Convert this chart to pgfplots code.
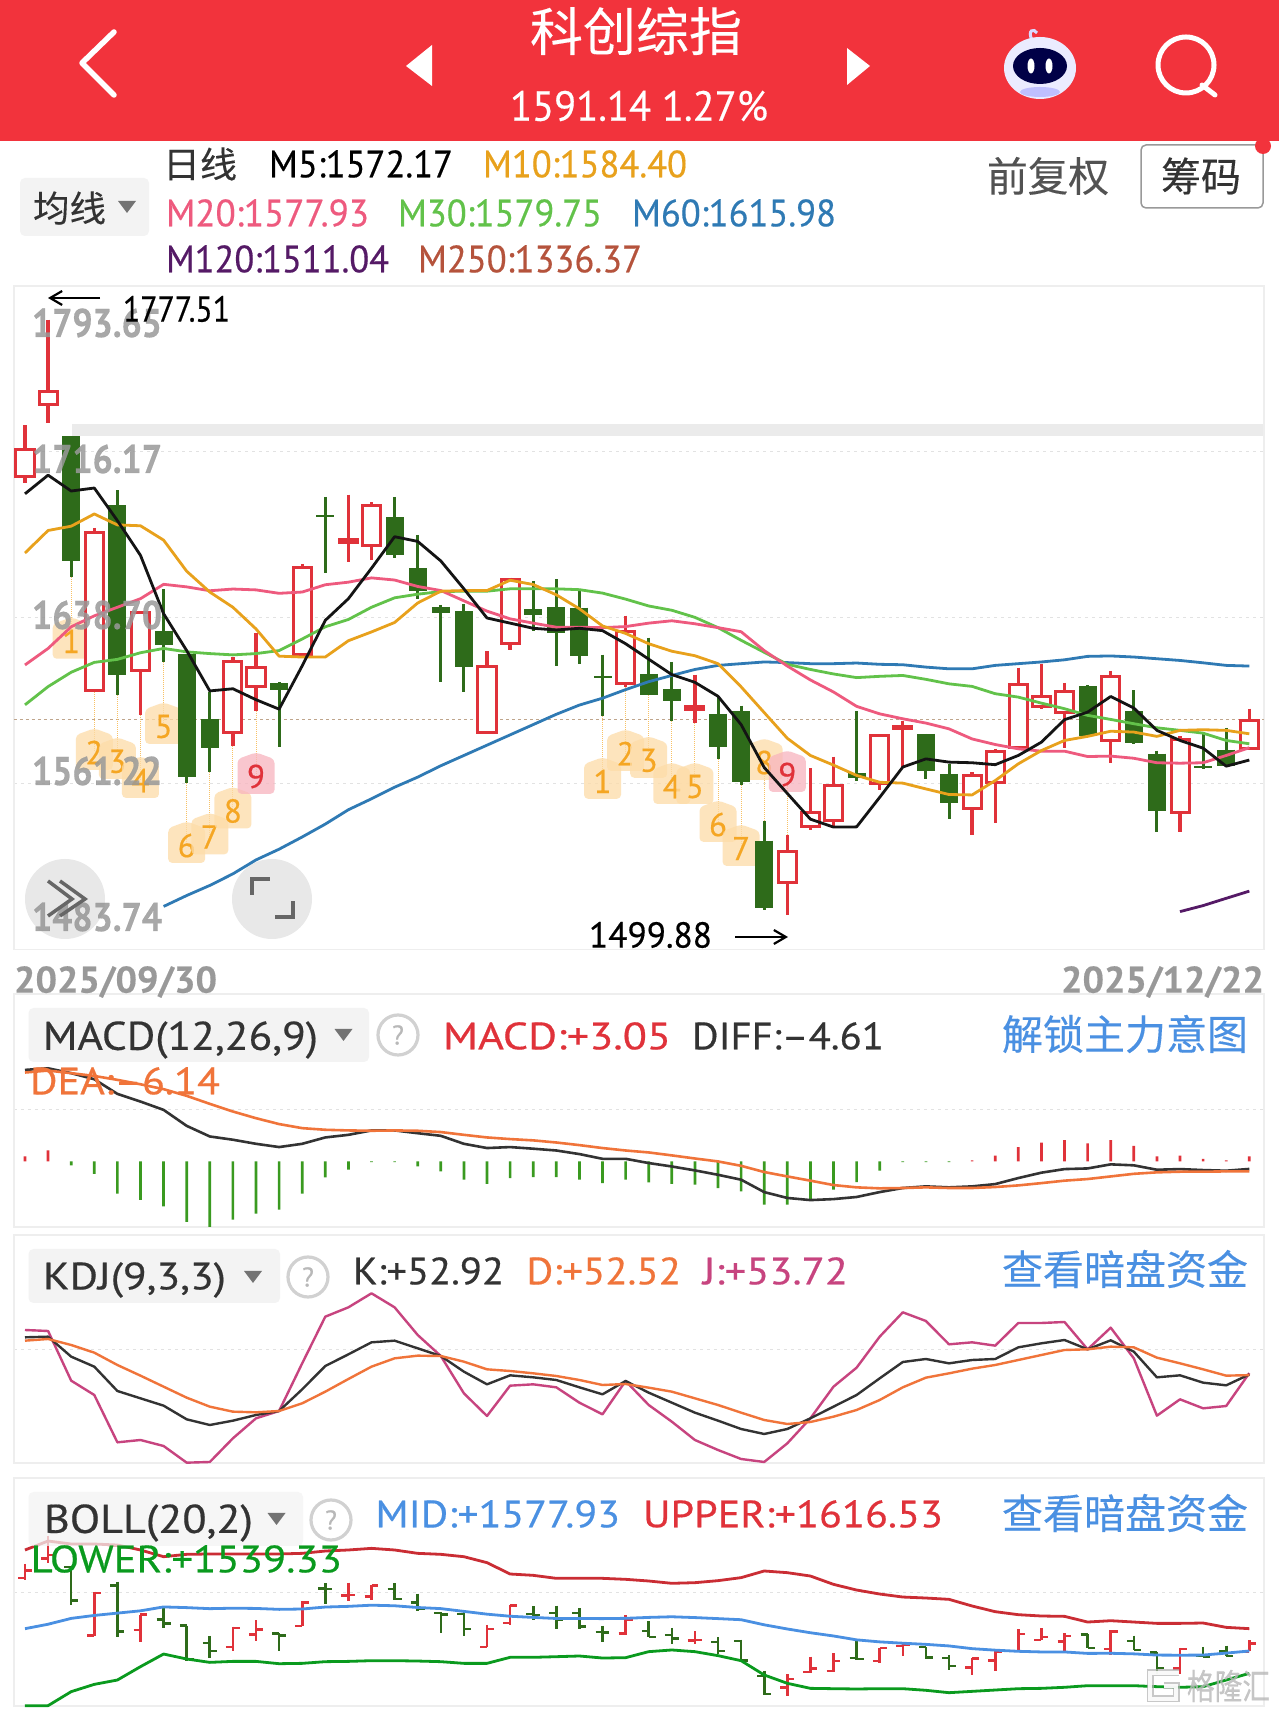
\documentclass[border=0pt]{standalone}
\usepackage{fontspec}
\usepackage{pgfplots}
\usepackage{pgfplotstable}
\usepackage{graphicx}
\pgfplotsset{compat=1.18}
\usetikzlibrary{arrows.meta,shapes.symbols}
\setmainfont{PT Sans}[FakeBold=0.45]
\newfontfamily\cjk{Noto Sans CJK SC}[FakeBold=0.25]
\definecolor{hdr}{HTML}{F2333C}
\definecolor{cred}{HTML}{E0323A}
\definecolor{cgreen}{HTML}{2E6B1A}
\definecolor{bargreen}{HTML}{3A9A20}
\definecolor{ma5}{HTML}{141414}
\definecolor{ma10}{HTML}{E8A11C}
\definecolor{ma20}{HTML}{EE5A7E}
\definecolor{ma30}{HTML}{62C24A}
\definecolor{ma60}{HTML}{2F7AB4}
\definecolor{ma120}{HTML}{551A66}
\definecolor{ma250}{HTML}{B5533C}
\definecolor{dark}{HTML}{333333}
\definecolor{orangeL}{HTML}{F0743A}
\definecolor{pinkL}{HTML}{C7447F}
\definecolor{blueL}{HTML}{4A90E2}
\definecolor{greenL}{HTML}{0A9A1E}
\definecolor{framec}{HTML}{EEEEEE}
\definecolor{gridc}{HTML}{E2E2E2}
\definecolor{lab}{HTML}{999999}
\definecolor{sel}{HTML}{F3F3F3}
\definecolor{badgeO}{HTML}{FDDCA8}
\definecolor{badgeR}{HTML}{F8B4BE}
\definecolor{numO}{HTML}{F5A623}
\definecolor{dashc}{HTML}{BFA58C}

\pgfplotstableread{
i m5 m10 m20 m30 m60
0 1696.3 1668.7 1616.5 1597.9 nan
1 1705 1679.2 1624.2 1606.4 nan
2 1697.6 1681.2 1634.3 1613.1 nan
3 1699 1686.9 1639.4 1617.7 nan
4 1683.8 1681.8 1643.4 1619.1 nan
5 1667.6 1681.4 1647.4 1622.2 nan
6 1640.4 1674.7 1654.1 1624.2 1503.9
7 1623.2 1660.2 1652.9 1622.6 1509
8 1604.4 1650.5 1651.1 1621.8 1513.7
9 1605.4 1643.4 1651.9 1621.2 1519.1
10 1600.3 1633.3 1651.5 1621.8 1525.6
11 1595.9 1620.6 1649.9 1623.2 1530.6
12 1616.1 1620.2 1650.5 1628.6 1536.3
13 1637.3 1620.2 1653.9 1634.3 1542.3
14 1647.4 1627.8 1655.1 1637.7 1549
15 1661.6 1631.9 1657.1 1643.4 1554.1
16 1676.3 1636.3 1656.1 1647.8 1559.5
17 1674.1 1645.4 1653.1 1649.5 1564.2
18 1665 1650.9 1651.2 1650.7 1569.5
19 1652 1651.2 1646.4 1650.9 1574.3
20 1638.4 1651.2 1641.6 1650.9 1579.1
21 1636 1656 1638 1652 1583.9
22 1633.6 1654 1636 1652 1588.7
23 1632.8 1649.2 1634.1 1652 1593.5
24 1633.6 1642.7 1634.1 1651.6 1597.8
25 1632.5 1634.7 1633.9 1650 1601
26 1626.4 1631.2 1634.4 1647.2 1605
27 1619.2 1626.4 1636 1644 1608.7
28 1612 1622.9 1637.1 1642 1611.6
29 1608.4 1620.8 1635.7 1638.7 1614.4
30 1601.9 1617.1 1633.9 1633.9 1616.3
31 1588.7 1606.3 1632 1628 1617.1
32 1568.7 1594.3 1623.2 1622.4 1617.9
33 1556.6 1582.3 1616 1616.8 1617.6
34 1544.6 1574.3 1609.5 1614.4 1617.1
35 1540.9 1569.8 1603.9 1612.3 1617.1
36 1541 1565 1597.2 1610.6 1617.4
37 1554.8 1561.8 1593.7 1611.2 1616.8
38 1568.9 1561.4 1591.4 1611.6 1616.6
39 1572.7 1558.7 1589.4 1609.8 1615.5
40 1571.2 1556.1 1586.7 1607.7 1614.7
41 1570.9 1555.9 1582 1606.5 1614.7
42 1570 1562.6 1579.4 1603.1 1616.3
43 1574.3 1570.4 1577.4 1601.5 1617.1
44 1580.5 1576.6 1576.3 1598.7 1617.9
45 1591 1581.3 1576.3 1596.1 1618.9
46 1594.5 1583.2 1573.8 1593 1620.5
47 1601.8 1585.6 1574 1591.1 1620.7
48 1596.4 1585.2 1573 1589.1 1620.2
49 1586 1583.2 1570.9 1587.2 1619.4
50 1581.3 1586 1570.7 1586 1618.6
51 1577.7 1586.3 1570.9 1584.7 1617.5
52 1569.3 1586 1574.3 1581.3 1616.3
53 1572.17 1584.4 1577.93 1579.75 1615.98
}\matable

\pgfplotstableread{
i diff dea macd
0 56.1 54.5 3.06
1 57.1 55.7 6.7
2 54.1 54.1 -2.4
3 50.4 52.4 -7.6
4 41.4 50 -19.8
5 36.7 47.3 -23.5
6 31.6 44.3 -27.6
7 21.8 40.2 -37.1
8 15.3 35.3 -40.2
9 13.3 30.6 -35.7
10 10.8 26.5 -32
11 8.8 22.9 -29.6
12 10.8 20.4 -19.8
13 14.7 19.4 -9.8
14 16.3 19 -5.1
15 19 18.8 -0.5
16 19 19 -0.5
17 17.3 18.8 -3
18 15.7 18 -6.1
19 10.8 16.3 -11.2
20 8.2 14.7 -13.7
21 8.8 13.7 -10.2
22 7.8 12.9 -9.6
23 6.7 11.6 -9.6
24 4.5 10 -11.2
25 1.6 8.2 -13.3
26 1.6 6.7 -11.2
27 -1 5.5 -12.9
28 -3.1 3.7 -13.7
29 -5.5 1.8 -14.3
30 -8.2 0 -16.3
31 -11.2 -2.7 -18.4
32 -18.8 -6.5 -26.5
33 -22.4 -9.2 -26.5
34 -23.7 -11.8 -23.5
35 -23.1 -14.5 -17.3
36 -21.8 -15.9 -12.7
37 -18.8 -16.5 -5.7
38 -16.3 -16.3 -0.4
39 -15.3 -15.9 -0.4
40 -15.9 -16.3 -0.4
41 -15.3 -16.3 0.6
42 -13.9 -15.7 3.5
43 -10.2 -14.7 8.8
44 -6.9 -13.3 11.6
45 -4.7 -11.8 13.1
46 -4.3 -10.8 11
47 -1.8 -9.2 13.1
48 -2.4 -7.6 9.6
49 -5.1 -6.7 3.1
50 -4.7 -6.3 3.5
51 -5.3 -6.3 1.6
52 -5.7 -6.1 0.6
53 -4.61 -6.14 3.05
}\macdtable

\pgfplotstableread{
i k d j
0 75.2 73.2 79.6
1 75.6 74.2 79
2 63.6 70.6 49.2
3 57.6 66 40.6
4 43 58.6 12.2
5 38.6 52.2 13.6
6 34.2 45.6 10
7 26 39 0
8 22.6 33.6 0.4
9 25.2 30.6 14.6
10 28.6 30.2 26.6
11 31 31 31
12 44 35.6 59.6
13 58 42.6 87.6
14 65 50.2 93.2
15 72.2 57.6 101.6
16 73.2 62.6 93.2
17 68.6 64.2 76.6
18 64 64 64
19 54.6 60.6 41.6
20 47 56 28
21 52.4 55 46.2
22 51.2 53.6 47
23 49.6 52 45.2
24 45.2 49.6 36
25 41 46.6 29
26 49 47.2 49
27 42 45 34.6
28 36 42.6 24.6
29 30 38.6 13.6
30 25.2 34.6 7.6
31 20.2 30 2.2
32 17.2 25.6 0.4
33 20.2 23.2 11.6
34 26.6 24.4 26.6
35 33.6 27.6 45.6
36 40.6 31.6 57
37 50.6 37.6 75.6
38 60.4 45.2 90.2
39 62.2 51 85
40 59.6 53.6 71
41 61.6 56.4 72.2
42 62.2 58.6 70.2
43 69.2 61.6 83.8
44 71.6 64.6 83.8
45 73.6 67.6 84.4
46 68 68 68
47 73.4 69.6 81
48 66.6 69.2 62.6
49 51.2 63 28.2
50 52.4 59.6 38
51 48 56 32.6
52 46.4 52.2 34
53 52.92 52.52 53.72
}\kdjtable

\pgfplotstableread{
i up lo
0 1752.5 1483.5
1 1768 1483.5
2 1762.8 1507.7
3 1762.8 1520.3
4 1761.1 1527.8
5 1752.5 1550.9
6 1740.9 1572.7
7 1745 1564.1
8 1745.6 1558.3
9 1745.6 1560
10 1745.6 1560
11 1745.6 1556
12 1746.7 1556.6
13 1750.7 1559.5
14 1752.5 1560
15 1755.3 1561.2
16 1752.5 1561.2
17 1746.7 1560.6
18 1745 1559.5
19 1740.9 1556.6
20 1730.6 1556.6
21 1711 1567
22 1708.7 1567
23 1703.5 1568.1
24 1703.5 1569.3
25 1703.5 1565.8
26 1701.8 1566.4
27 1698.9 1576.8
28 1694.9 1579.7
29 1696 1576.8
30 1699.5 1569.9
31 1704.7 1561.2
32 1716.2 1536.5
33 1713.3 1522.1
34 1707.5 1513.4
35 1693.1 1512.8
36 1683.3 1512.3
37 1676.4 1512.8
38 1671.2 1512.8
39 1669.5 1510
40 1667.2 1505.9
41 1655.7 1508.2
42 1645.9 1510.5
43 1640.7 1512.8
44 1638.4 1513.4
45 1637.8 1515.2
46 1628 1518
47 1630.3 1518
48 1628 1518
49 1625.7 1516.3
50 1625.7 1515.2
51 1626.3 1516.3
52 1618.8 1527.8
53 1616.53 1539.33
}\bolltable

% index, body top, body bottom, high, low
\newcommand\candles{%
\U{0}{1716.8}{1704.6}{1728.3}{1701.4}
\U{1}{1743.8}{1737.8}{1777.51}{1729.3}
\D{2}{1723.2}{1665.2}{1723.2}{1657.5}
\U{3}{1678.4}{1604.6}{1680.4}{1604.6}
\D{4}{1690.9}{1611.7}{1698}{1602.4}
\U{5}{1640.8}{1614.1}{1641}{1593.3}
\D{6}{1632.3}{1625.6}{1651.9}{1618.1}
\D{7}{1621.8}{1564.2}{1621.8}{1561.5}
\D{8}{1591.4}{1577.7}{1604}{1566.6}
\U{9}{1618.1}{1584.8}{1620.1}{1578.7}
\U{10}{1615.1}{1606.6}{1631.3}{1594.9}
\D{11}{1608}{1605}{1608.4}{1578.1}
\U{12}{1662}{1621.6}{1663.6}{1621.6}
\D{13}{1686.2}{1685.4}{1694.9}{1659.2}
\U{14}{1675.2}{1673.6}{1695.9}{1664.6}
\U{15}{1690.9}{1672.3}{1692.3}{1665.6}
\D{16}{1685.4}{1667.6}{1694.9}{1666.6}
\D{17}{1661.6}{1651.1}{1677.1}{1647.4}
\D{18}{1643.6}{1640.8}{1644.5}{1608.7}
\D{19}{1641.5}{1615.5}{1644.8}{1603.9}
\U{20}{1616}{1585}{1622.9}{1585}
\U{21}{1656.4}{1626.4}{1657.2}{1623.5}
\D{22}{1642.4}{1640}{1655.7}{1632.3}
\D{23}{1643.5}{1631.2}{1656.5}{1615.8}
\D{24}{1643.2}{1620.5}{1652}{1616.8}
\D{25}{1611.2}{1610.2}{1621.3}{1592.7}
\U{26}{1632}{1607.9}{1639.5}{1606.3}
\D{27}{1612.4}{1602.3}{1629.3}{1602.3}
\D{28}{1605.5}{1599.6}{1617.9}{1590.3}
\U{29}{1596.9}{1595.9}{1612}{1589.5}
\D{30}{1593.8}{1578.3}{1601.5}{1572.7}
\D{31}{1594.8}{1561.7}{1597.5}{1560.6}
\D{32}{1534.6}{1503.4}{1543.8}{1502.1}
\U{33}{1529.3}{1515.2}{1537.4}{1499.88}
\U{34}{1547.5}{1541.4}{1568.3}{1539.4}
\U{35}{1560.3}{1543.8}{1573.8}{1541.4}
\D{36}{1566.2}{1563.9}{1595}{1562.2}
\U{37}{1583.6}{1561}{1583.6}{1558}
\U{38}{1588}{1587}{1590.6}{1568.9}
\D{39}{1584.4}{1567}{1584.4}{1563.4}
\D{40}{1565.7}{1552.2}{1570.4}{1544.7}
\U{41}{1565}{1549.4}{1566.5}{1537}
\U{42}{1576.2}{1561.5}{1577.4}{1542.7}
\U{43}{1607.3}{1578.2}{1615.2}{1578.2}
\U{44}{1602}{1597.3}{1617}{1596.1}
\U{45}{1603.9}{1594.2}{1608.2}{1577.9}
\D{46}{1606.5}{1583.6}{1607}{1583.6}
\U{47}{1611.3}{1581.3}{1613.7}{1570.7}
\D{48}{1594.8}{1580}{1604.6}{1579.7}
\D{49}{1575.1}{1548.2}{1576.6}{1538.5}
\U{50}{1581.6}{1547.9}{1583.2}{1538.5}
\D{51}{1569.2}{1568.3}{1585.2}{1568.1}
\D{52}{1577}{1569.6}{1587.2}{1569}
\U{53}{1590.6}{1577.4}{1596.1}{1577.4}
}

\newcommand\TT[6]{%
  \pgfmathsetmacro\tw{#2-#1}\pgfmathsetmacro\tc{(#1+#2)/2}%
  \node[text=#4,inner sep=0pt,anchor=center] at (\tc,#3+1)
    {\resizebox{\tw pt}{\height}{\fontsize{#5}{#5}\selectfont #6}};}
\newcommand\Q[2]{%
  \draw[draw=black!18,line width=3.2pt,fill=white] (#1,#2) circle (20);
  \node[text=black!28,inner sep=0pt] at (#1,#2) {\fontsize{27}{27}\selectfont ?};}
\newcommand\Tri[2]{\fill[black!55] (#1-9,#2-6) -- (#1+9,#2-6) -- (#1,#2+6) -- cycle;}
\newcommand\B[3]{%
  \addplot[densely dotted,line width=1pt,color=numO!70] coordinates {(#1,#2)(#1,#3)};
}
\newcommand\BN[5]{%
  \node[signal,signal to=north,signal pointer angle=140,minimum width=37pt,minimum height=38pt,
        inner sep=0pt,rounded corners=4pt,fill=#4,fill opacity=0.75,text opacity=1,text=#5,
        font=\fontsize{33}{33}\selectfont] at (axis cs:#1,#2) {#3};}

\pgfplotsset{panel/.style={scale only axis,width=1250pt,anchor=south west,
  xmin=-0.476,xmax=53.636,xtick=\empty,
  major tick length=0pt,yticklabels={},ymajorgrids,
  grid style={dash pattern=on 3pt off 4pt,draw=gridc,line width=0.9pt},
  axis line style={draw=framec,line width=1.6pt},clip=false,unbounded coords=jump,
  every axis plot/.append style={line join=round}}}

\begin{document}
\begin{tikzpicture}
\useasboundingbox (0pt,0pt) rectangle (1279pt,1714pt);
\fill[white] (0pt,0pt) rectangle (1279pt,1714pt);
\begin{scope}[x=1pt,y=-1pt,shift={(0pt,1714pt)}]
\fill[hdr] (0,0) rectangle (1279,141);
\draw[white,line width=5.5pt,line cap=round,line join=round] (114,32) -- (82,63) -- (114,95);
\fill[white] (432,45) -- (406,66) -- (432,86) -- cycle;
\fill[white] (847,48) -- (870,66) -- (847,85) -- cycle;
\TT{530}{742}{30}{white}{52}{\cjk 科创综指}
\TT{510}{768}{105}{white}{42}{1591.14 1.27\%}
% robot
\draw[white!85!blue,line width=3pt] (1032,40) .. controls (1027,30) and (1034,28) .. (1037,33);
\fill[white!92!blue] (1040,68) ellipse (36 and 31);
\fill[white!75!blue] (1040,92) ellipse (20 and 5);
\fill[black!72!blue] (1040,66) ellipse (27 and 18);
\fill[white] (1031,66) ellipse (3.5 and 7.5);
\fill[white] (1049,66) ellipse (3.5 and 7.5);
% search
\draw[white,line width=5pt] (1186,65) circle (28);
\draw[white,line width=5pt,line cap=round] (1202,85) -- (1215,95);
% legend rows
\fill[sel,rounded corners=5pt] (20,178) rectangle (149,236);
\TT{33}{106}{207}{dark}{36}{\cjk 均线}
\fill[black!55] (118,201) -- (136,201) -- (127,213) -- cycle;
\TT{163}{237}{163}{dark}{36}{\cjk 日线}
\TT{269}{453}{163}{black}{38}{M5:1572.17}
\TT{483}{687}{163}{ma10}{38}{M10:1584.40}
\TT{166}{369}{212}{ma20}{38}{M20:1577.93}
\TT{398}{602}{212}{ma30}{38}{M30:1579.75}
\TT{632}{836}{212}{ma60}{38}{M60:1615.98}
\TT{166}{389}{258}{ma120}{38}{M120:1511.04}
\TT{418}{642}{258}{ma250}{38}{M250:1336.37}
\TT{987}{1109}{175}{dark!85}{41}{\cjk 前复权}
\draw[black!40,line width=1.5pt,rounded corners=5pt] (1141,145) rectangle (1263,208);
\TT{1161}{1241}{175}{dark}{40}{\cjk 筹码}
\fill[hdr] (1263,146) circle (8);
% band
\fill[black!8] (72,424) rectangle (1264,436);
\end{scope}

% ---- main candle axis
\begin{axis}[panel,at={(14pt,764.3pt)},height=663.7pt,ymin=1483.74,ymax=1793.2,
  ytick={1716.17,1638.7,1561.22}]
\addplot[color=dashc,dashed,line width=1.1pt] coordinates {(-0.476,1591.14)(53.636,1591.14)};
% badges: connector from candle low to the badge
\B{2}{1657.5}{1627.5}\B{3}{1604.6}{1575.7}\B{4}{1602.4}{1571.5}\B{5}{1593.3}{1562.6}\B{6}{1618.1}{1587.8}
\B{7}{1561.5}{1532.3}\B{8}{1566.6}{1536.3}\B{9}{1578.7}{1548.4}\B{10}{1594.9}{1564.5}
\B{25}{1592.7}{1562.2}\B{26}{1606.3}{1575.2}\B{27}{1602.3}{1572}\B{28}{1590.3}{1559.8}\B{29}{1589.5}{1559.8}
\B{30}{1572.7}{1542.1}\B{31}{1560.6}{1530.9}\B{32}{1543.8}{1571}\B{33}{1537.4}{1565.4}
\BN{2}{1627.5}{1}{badgeO}{numO}\BN{3}{1575.7}{2}{badgeO}{numO}\BN{4}{1571.5}{3}{badgeO}{numO}\BN{5}{1562.6}{4}{badgeO}{numO}
\BN{6}{1587.8}{5}{badgeO}{numO}\BN{7}{1532.3}{6}{badgeO}{numO}\BN{8}{1536.3}{7}{badgeO}{numO}\BN{9}{1548.4}{8}{badgeO}{numO}
\BN{10}{1564.5}{9}{badgeR}{cred}
\BN{25}{1562.2}{1}{badgeO}{numO}\BN{26}{1575.2}{2}{badgeO}{numO}\BN{27}{1572}{3}{badgeO}{numO}\BN{28}{1559.8}{4}{badgeO}{numO}
\BN{29}{1559.8}{5}{badgeO}{numO}\BN{30}{1542.1}{6}{badgeO}{numO}\BN{31}{1530.9}{7}{badgeO}{numO}\BN{32}{1571}{8}{badgeO}{numO}
\BN{33}{1565.4}{9}{badgeR}{cred}
\def\U#1#2#3#4#5{%
  \pgfmathsetmacro\xa{#1-0.39}\pgfmathsetmacro\xb{#1+0.39}%
  \addplot[cred,line width=3.3pt] coordinates {(#1,#4)(#1,#2)};
  \addplot[cred,line width=3.3pt] coordinates {(#1,#3)(#1,#5)};
  \addplot[cred,line width=3pt,fill=white,line join=miter] coordinates {(\xa,#2)(\xb,#2)(\xb,#3)(\xa,#3)} --cycle;
}
\def\D#1#2#3#4#5{%
  \addplot[cgreen,line width=3pt] coordinates {(#1,#4)(#1,#5)};
  \addplot[cgreen,line width=18pt] coordinates {(#1,#2)(#1,#3)};
}
\candles
\addplot[ma60,line width=2.8pt] table[x=i,y=m60] {\matable};
\addplot[ma120,line width=2.8pt] coordinates {(50,1501.5)(51,1504.3)(52,1507.7)(53,1511.04)};
\addplot[ma30,line width=2.8pt] table[x=i,y=m30] {\matable};
\addplot[ma20,line width=2.8pt] table[x=i,y=m20] {\matable};
\addplot[ma10,line width=2.8pt] table[x=i,y=m10] {\matable};
\addplot[ma5,line width=2.8pt] table[x=i,y=m5] {\matable};
\end{axis}

% ---- MACD
\begin{axis}[panel,at={(14pt,487pt)},height=233pt,ymin=-40.2,ymax=102.65,ytick={31.6}]
\addplot[ybar,bar width=2.7pt,bar shift=0pt,fill=bargreen,draw=none,restrict y to domain=-100:0] table[x=i,y=macd] {\macdtable};
\addplot[ybar,bar width=2.7pt,bar shift=0pt,fill=cred,draw=none,restrict y to domain=0:100] table[x=i,y=macd] {\macdtable};
\addplot[dark,line width=2.6pt] table[x=i,y=diff] {\macdtable};
\addplot[orangeL,line width=2.6pt] table[x=i,y=dea] {\macdtable};
\end{axis}

% ---- KDJ
\begin{axis}[panel,at={(14pt,251pt)},height=228pt,ymin=-0.2,ymax=136.6,ytick={68.2}]
\addplot[pinkL,line width=2.4pt] table[x=i,y=j] {\kdjtable};
\addplot[dark,line width=2.4pt] table[x=i,y=k] {\kdjtable};
\addplot[orangeL,line width=2.4pt] table[x=i,y=d] {\kdjtable};
\end{axis}

% ---- BOLL
\begin{axis}[panel,at={(14pt,8pt)},height=228pt,ymin=1482.9,ymax=1876.9,ytick={1679.3}]
\def\U#1#2#3#4#5{%
  \pgfmathsetmacro\xa{#1-0.3}\pgfmathsetmacro\xb{#1+0.3}%
  \addplot[cred,line width=2.6pt] coordinates {(#1,#4)(#1,#5)};
  \addplot[cred,line width=2.4pt] coordinates {(\xa,#3)(#1,#3)};
  \addplot[cred,line width=2.4pt] coordinates {(#1,#2)(\xb,#2)};
}
\def\D#1#2#3#4#5{%
  \pgfmathsetmacro\xa{#1-0.3}\pgfmathsetmacro\xb{#1+0.3}%
  \addplot[cgreen,line width=2.6pt] coordinates {(#1,#4)(#1,#5)};
  \addplot[cgreen,line width=2.4pt] coordinates {(\xa,#2)(#1,#2)};
  \addplot[cgreen,line width=2.4pt] coordinates {(#1,#3)(\xb,#3)};
}
\candles
\addplot[cred!90!black,line width=2.8pt] table[x=i,y=up] {\bolltable};
\addplot[blueL,line width=2.8pt] table[x=i,y=m20] {\matable};
\addplot[greenL,line width=2.8pt] table[x=i,y=lo] {\bolltable};
\end{axis}

\begin{scope}[x=1pt,y=-1pt,shift={(0pt,1714pt)}]
% overlays of the main chart
\begin{scope}[opacity=0.85]
\TT{32}{162}{322}{lab}{40}{\textbf{1793.65}}
\TT{32}{162}{458}{lab}{40}{\textbf{1716.17}}
\TT{32}{162}{614}{lab}{40}{\textbf{1638.70}}
\TT{32}{162}{770}{lab}{40}{\textbf{1561.22}}
\TT{32}{162}{916}{lab}{40}{\textbf{1483.74}}
\end{scope}
\TT{123}{230}{308}{black}{36}{1777.51}
\draw[black,line width=2.2pt,-{Straight Barb[length=12pt,width=14pt]}] (100,298) -- (48,298);
\TT{589}{712}{934}{black}{36}{1499.88}
\draw[black,line width=2.2pt,-{Straight Barb[length=12pt,width=14pt]}] (735,937) -- (788,937);
\fill[black!45,opacity=0.2] (65,899) circle (40);
\draw[black!60,line width=3.5pt] (48,881) -- (72,899) -- (48,916);
\draw[black!60,line width=3.5pt] (60,881) -- (85,899) -- (60,916);
\fill[black!45,opacity=0.2] (272,899) circle (40);
\draw[black!60,line width=4pt] (252,895) -- (252,879) -- (270,879);
\draw[black!60,line width=4pt] (275,917.5) -- (293,917.5) -- (293,901.5);
\TT{14}{217}{981}{lab}{37}{\textbf{2025/09/30}}
\TT{1061}{1264}{981}{lab}{37}{\textbf{2025/12/22}}
% MACD header
\fill[sel,rounded corners=5pt] (28.5,1008) rectangle (369,1062);
\TT{43}{318}{1039}{dark}{40}{MACD(12,26,9)}
\Tri{343.5}{1035}
\Q{398}{1035}
\TT{443}{671}{1035}{cred}{38}{MACD:+3.05}
\TT{692}{884}{1035}{dark}{38}{DIFF:--4.61}
\TT{1002}{1248}{1033}{blueL}{41}{\cjk 解锁主力意图}
\TT{30}{220}{1080}{orangeL}{38}{DEA:--6.14}
% KDJ header
\fill[sel,rounded corners=5pt] (28.5,1249) rectangle (280,1303);
\TT{43}{226}{1279}{dark}{38}{KDJ(9,3,3)}
\Tri{253}{1277}
\Q{308}{1277}
\TT{353}{504}{1270}{dark}{38}{K:+52.92}
\TT{526.5}{681}{1270}{orangeL}{38}{D:+52.52}
\TT{703}{848}{1270}{pinkL}{38}{J:+53.72}
\TT{1002}{1248}{1268}{blueL}{41}{\cjk 查看暗盘资金}
% BOLL header
\fill[sel,rounded corners=5pt,opacity=0.75] (28.5,1492) rectangle (303,1546);
\TT{44}{253}{1522}{dark}{40}{BOLL(20,2)}
\Tri{276.5}{1519}
\Q{331}{1520}
\TT{375.5}{620}{1513}{blueL}{38}{MID:+1577.93}
\TT{643}{943}{1513}{cred}{38}{UPPER:+1616.53}
\TT{1002}{1248}{1512}{blueL}{41}{\cjk 查看暗盘资金}
\TT{30.6}{342}{1558}{greenL}{38}{LOWER:+1539.33}
% watermark
\draw[black!30,line width=7pt,opacity=0.7] (1179,1673) -- (1150,1673) -- (1150,1699) -- (1176,1699) -- (1176,1686) -- (1164,1686);
\draw[white,line width=3.5pt,opacity=0.9] (1179,1673) -- (1150,1673) -- (1150,1699) -- (1176,1699) -- (1176,1686) -- (1164,1686);
\begin{scope}[opacity=0.8]
\TT{1187}{1270}{1685}{black!28}{35}{\cjk 格隆汇}
\end{scope}
\end{scope}
\end{tikzpicture}
\end{document}
